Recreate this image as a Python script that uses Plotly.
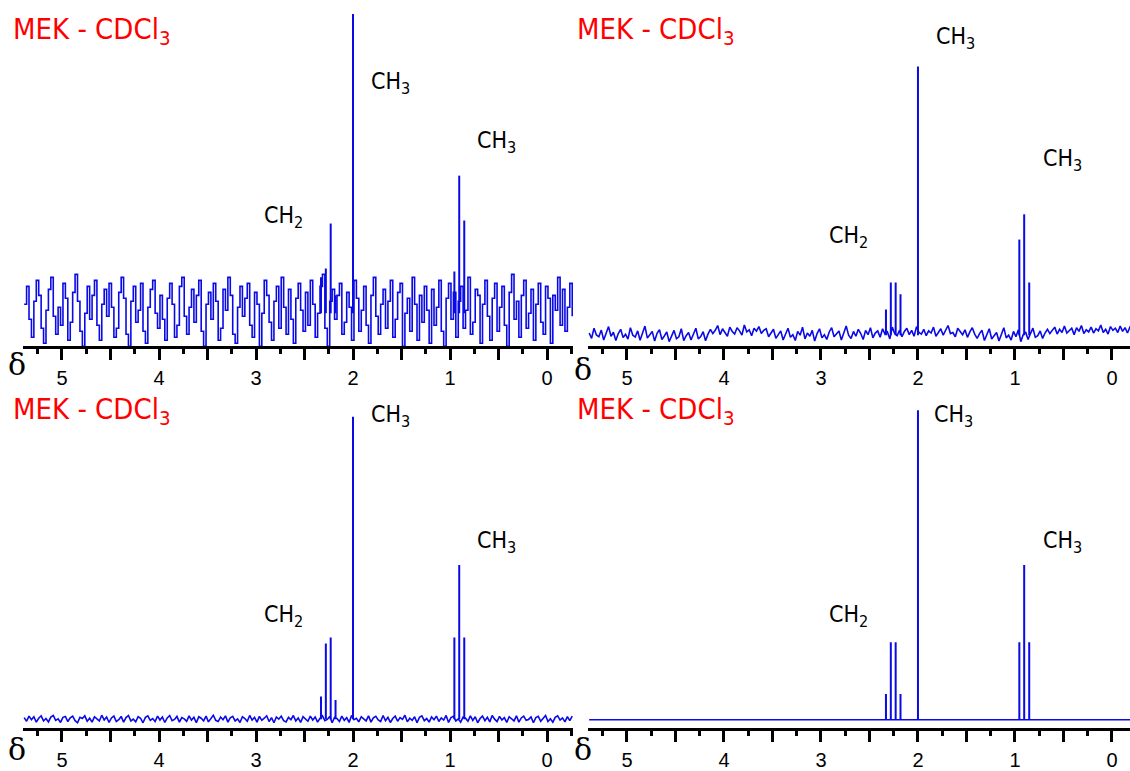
import numpy as np
import plotly.graph_objects as go

FIG_W, FIG_H = 1130, 771

# ---------------------------------------------------------------------------
# Line positions (ppm) of the methyl ethyl ketone multiplets in CDCl3
quartet_ppm = [2.33, 2.28, 2.23, 2.18]    # CH2 quartet
singlet_ppm = [2.00]                      # CO-CH3 singlet
triplet_ppm = [0.955, 0.905, 0.853]       # CH2-CH3 triplet

# Line heights (singlet = 100) for the four acquisitions
tl_quartet = [12, 15, 30, 6]
tl_singlet = [100]
tl_triplet = [14, 46, 31]

tr_quartet = [9.6, 19.6, 19.6, 15.2]
tr_singlet = [100]
tr_triplet = [35.6, 45, 19.6]

bl_quartet = [7.5, 25, 27, 6.3]
bl_singlet = [100]
bl_triplet = [27, 51, 27]

br_quartet = [8.3, 25, 25, 8.3]
br_singlet = [100]
br_triplet = [25, 50, 25]

# Baseline noise, sampled every 0.025 ppm from 5.39 ppm downwards
noise_start_ppm = 5.39
noise_step_ppm = 0.025

tl_noise = [
    3, 9, -2, -8, 4, 11, 6, -5, -10, 1,
    8, 12, -1, -7, 2, -4, 10, 5, -9, -3,
    7, 13, 4, -6, -11, 0, 9, -2, 6, 11,
    -4, -9, 3, 8, -1, 10, 2, -8, -5, 7,
    12, 5, -7, -11, 4, 9, -3, 1, 10, -6,
    -10, 2, 8, 11, 0, -5, 6, -2, -9, 5,
    10, 3, -8, -4, 9, 12, -1, -7, 2, 8,
    -3, 6, 11, -6, -11, 3, 7, -2, 10, 4,
    -9, -5, 8, 1, 12, 6, -7, -10, 2, 9,
    -1, 5, 10, -4, -8, 7, 3, -11, 0, 11,
    6, -3, -9, 4, 9, -5, 12, 2, -7, 8,
    -2, -10, 5, 10, 1, -6, 7, -4, 11, 3,
    -8, 0, 9, 13, -5, -11, 4, 8, -2, 6,
    10, -7, -3, 7, 2, -9, 11, 5, -6, 1,
    9, -4, -10, 6, 12, -1, -7, 3, 8, -5,
    4, 11, -8, -2, 7, 10, -11, 0, 5, -6,
    12, 3, -9, 6, -3, 9, 1, -10, 8, -4,
    2, 11, -6, -11, 5, 10, -2, 7, -8, 4,
    9, -5, 1, 12, -7, -3, 8, 6, -10, 3,
    11, -1, -9, 5, 10, -6, 2, 9, -4, -11,
    7, 13, -2, 4, -8, 6, 11, -5, 0, 8,
    -9, 3, 10, -3, -7, 9, 5, -10, 6, 1,
    12, -4, 8, -6, 2, 10, -1,
]

tr_noise = [
    0.8, -1.2, 2.6, 0.1, -0.6, 1.9, -1.8, 0.4, 3.2, -0.4,
    1.1, -2.0, 0.6, 2.2, -0.9, 0.3, -1.5, 2.8, 0.0, -0.7,
    1.6, -1.9, 0.9, 3.4, -1.1, 0.2, 1.4, -2.2, 0.7, 2.0,
    -1.6, -0.3, 1.2, -2.4, 0.0, 1.8, -1.3, -0.6, 2.4, -2.0,
    -0.2, 1.0, -1.8, 0.6, 2.6, -1.4, -0.5, 1.3, -2.1, 0.4,
    2.2, 0.6, 1.8, 3.6, 0.2, 2.4, 1.0, -0.4, 3.0, 1.4,
    0.4, 2.8, 1.6, 0.0, 3.8, 1.2, 2.0, -0.2, 2.6, 1.5,
    3.2, 0.6, 1.8, 2.4, -0.6, 1.0, 2.2, -1.2, 0.4, 1.6,
    -1.8, 0.6, 2.6, -0.8, 0.2, -2.0, 1.4, 0.0, 3.0, -1.4,
    0.8, -0.4, 1.8, -2.2, 0.6, 2.4, -1.0, 0.2, -1.6, 1.2,
    2.8, -0.6, 0.4, 1.6, -1.8, 0.8, 3.4, 0.0, -1.2, 1.4,
    -0.4, 2.2, 0.6, -1.6, 1.8, 0.2, 2.8, -1.0, 0.8, 1.6,
    -0.8, 2.4, 0.4, 1.2, -1.4, 3.0, 0.6, -0.2, 1.8, -0.6,
    1.4, 2.6, 0.2, 1.8, -0.4, 3.2, 1.0, 0.4, 2.2, -0.2,
    1.6, 0.8, 3.0, -0.4, 1.2, 2.4, 0.0, 1.6, 3.6, 0.6,
    1.0, -0.6, 2.6, 1.4, 0.2, 2.0, -0.8, 1.2, 2.8, 0.4,
    -1.2, 0.6, 1.8, -2.0, 0.2, 2.4, -1.4, -0.2, 1.0, -2.2,
    0.4, 2.8, -1.0, 0.0, -1.8, 1.4, -0.6, 2.0, -2.4, 0.2,
    1.2, -1.6, 0.6, 2.6, -0.8, -0.2, 1.6, -1.2, 0.8, 2.2,
    0.6, 1.8, 3.0, 0.4, 2.2, 1.0, 3.4, 0.8, 1.6, 2.6,
    0.2, 2.8, 1.4, 3.6, 0.6, 2.0, 1.2, 3.0, 0.8, 2.4,
    1.6, 3.8, 1.0, 2.2, 0.4, 3.2, 1.8, 2.6, 1.0, 3.4,
    1.4, 2.8, 0.8, 3.0, 2.0, 1.2, 3.6,
]

bl_noise = [
    0.5, -0.7, 1.0, -0.2, 0.8, -1.0, 0.3, 1.1, -0.6, 0.2,
    -0.9, 0.7, 1.2, -0.4, 0.1, -1.1, 0.6, 0.9, -0.8, 0.4,
    1.0, -0.5, -1.2, 0.6, 0.2, 1.1, -0.7, 0.3, -1.0, 0.8,
    0.1, -0.6, 1.3, -0.3, 0.7, -1.1, 0.4, 1.0, -0.8, -0.2,
    0.9, -1.0, 0.5, 1.2, -0.6, 0.0, -0.9, 0.8, 0.3, -1.2,
    0.6, 1.1, -0.4, 0.2, -0.8, 1.0, -0.3, 0.7, -1.1, 0.4,
    1.2, -0.5, -0.1, 0.9, -1.0, 0.5, 0.1, -0.7, 1.1, -0.3,
    0.6, -1.2, 0.8, 0.3, -0.6, 1.0, -0.9, 0.2, 1.3, -0.4,
    -0.8, 0.7, -0.2, 1.1, -1.0, 0.4, 0.9, -0.6, 0.1, -1.1,
    0.8, 0.2, -0.7, 1.2, -0.3, 0.6, -1.0, 0.9, -0.4, 0.3,
    1.1, -0.8, 0.5, -1.2, 0.7, 0.0, 1.0, -0.5, -0.9, 0.6,
    -0.2, 1.2, -0.6, 0.4, -1.1, 0.8, 0.2, -0.7, 1.0, -0.3,
    0.7, -1.0, 0.3, 1.1, -0.5, -0.1, 0.9, -1.2, 0.6, 0.2,
    -0.8, 1.0, -0.4, 0.5, -1.1, 1.2, -0.2, 0.3, -0.9, 0.8,
    0.1, -0.6, 1.1, -1.0, 0.4, 0.9, -0.3, -0.8, 1.2, -0.5,
    0.6, -1.1, 0.2, 1.0, -0.7, 0.5, -0.1, 1.3, -0.9, 0.3,
    -0.4, 0.8, -1.2, 0.6, 1.1, -0.5, 0.2, -1.0, 0.7, -0.2,
    1.0, -0.8, 0.4, -0.3, 1.2, -1.1, 0.5, 0.9, -0.6, 0.1,
    -1.0, 0.7, 0.3, -0.7, 1.1, -0.4, 0.8, -1.2, 0.2, 1.0,
    -0.5, 0.6, -0.9, 1.2, 0.0, -0.8, 0.9, -0.3, 0.5, -1.1,
    0.8, 0.2, -0.6, 1.1, -1.0, 0.4, 1.0, -0.4, -0.1, 0.7,
    -1.2, 0.5, 0.9, -0.7, 0.3, 1.2, -0.8, 0.1, -1.0, 0.6,
    1.1, -0.3, 0.4, -0.9, 0.8, -0.5, 1.0,
]

# the last acquisition has a perfectly flat baseline
br_noise = [0.0] * len(bl_noise)

tick_labels = ["0", "1", "2", "3", "4", "5"]

# ---------------------------------------------------------------------------
LINE_COLOR = "#0a0ae6"
LABEL_FONT = ("DejaVu Sans Condensed, Liberation Sans Narrow, "
              "Arial Narrow, Liberation Sans, sans-serif")


def px_x(px):
    return px / FIG_W


def px_y(py):
    return 1 - py / FIG_H


def stick_xy(positions, heights):
    xs, ys = [], []
    for p, h in zip(positions, heights):
        xs += [p, p, None]
        ys += [0, h, None]
    return xs, ys


panels = [
    dict(noise=tl_noise, q=tl_quartet, s=tl_singlet, t=tl_triplet, shape="hv",
         xpx=(23, 573), ypx=(0, 348), xr=(5.402, -0.268), yr=(-11.0, 104.7)),
    dict(noise=tr_noise, q=tr_quartet, s=tr_singlet, t=tr_triplet, shape="linear",
         xpx=(588, 1130), ypx=(0, 348), xr=(5.402, -0.186), yr=(-4.1, 124.8)),
    dict(noise=bl_noise, q=bl_quartet, s=bl_singlet, t=bl_triplet, shape="linear",
         xpx=(23, 573), ypx=(390, 732), xr=(5.402, -0.268), yr=(-3.0, 109.5)),
    dict(noise=br_noise, q=br_quartet, s=br_singlet, t=br_triplet, shape="linear",
         xpx=(588, 1130), ypx=(390, 732), xr=(5.402, -0.186), yr=(-2.75, 107.2)),
]

fig = go.Figure()
layout_axes = {}

major_vals = [v * 0.5 for v in range(0, 11)]
major_text = [tick_labels[int(v)] if v == int(v) else "" for v in major_vals]
minor_vals = [-0.25 + v * 0.5 for v in range(0, 12)]

for i, p in enumerate(panels, start=1):
    xa = "x" if i == 1 else f"x{i}"
    ya = "y" if i == 1 else f"y{i}"
    ppm = noise_start_ppm - noise_step_ppm * np.arange(len(p["noise"]))
    fig.add_trace(go.Scatter(x=ppm, y=p["noise"], mode="lines",
                             line=dict(color=LINE_COLOR, width=1.6,
                                       shape=p["shape"]),
                             xaxis=xa, yaxis=ya, showlegend=False,
                             hoverinfo="skip"))
    sx, sy = stick_xy(quartet_ppm + singlet_ppm + triplet_ppm,
                      p["q"] + p["s"] + p["t"])
    fig.add_trace(go.Scatter(x=sx, y=sy, mode="lines",
                             line=dict(color=LINE_COLOR, width=2),
                             xaxis=xa, yaxis=ya, showlegend=False,
                             hoverinfo="skip"))

    xkey = "xaxis" if i == 1 else f"xaxis{i}"
    ykey = "yaxis" if i == 1 else f"yaxis{i}"
    layout_axes[xkey] = dict(
        domain=[px_x(p["xpx"][0]), px_x(p["xpx"][1])],
        anchor=ya, range=list(p["xr"]),
        showline=True, linecolor="black", linewidth=3,
        showgrid=False, zeroline=False,
        ticks="outside", ticklen=11, tickwidth=3, tickcolor="black",
        tickmode="array", tickvals=major_vals, ticktext=major_text,
        tickfont=dict(family="Liberation Sans, Arial, sans-serif",
                      size=20, color="black"),
        ticklabelstandoff=1,
        minor=dict(tickmode="array", tickvals=minor_vals, ticks="outside",
                   ticklen=5, tickwidth=3, tickcolor="black"),
        fixedrange=True,
    )
    layout_axes[ykey] = dict(
        domain=[px_y(p["ypx"][1]), px_y(p["ypx"][0])],
        anchor=xa, range=list(p["yr"]), visible=False, fixedrange=True,
    )

annotations = []

# solvent title on every panel
for (tx, ty) in [(11, 31), (575, 31), (11, 413), (575, 413)]:
    annotations.append(dict(
        text="MEK - CDCl<sub>3</sub>", xref="paper", yref="paper",
        x=px_x(tx), y=px_y(ty), xanchor="left", yanchor="middle",
        showarrow=False,
        font=dict(family=LABEL_FONT, size=29, color="#ff0000")))

# delta symbol beside each shift axis
for (dx, dy) in [(17, 366), (583, 371), (17, 753), (583, 753)]:
    annotations.append(dict(
        text="δ", xref="paper", yref="paper", x=px_x(dx), y=px_y(dy),
        xanchor="center", yanchor="middle", showarrow=False,
        font=dict(family="DejaVu Serif, Liberation Serif, serif",
                  size=30, color="black")))

# group assignments
group_labels = [
    ("CH<sub>3</sub>", 369, 83), ("CH<sub>3</sub>", 475, 143), ("CH<sub>2</sub>", 262, 218),
    ("CH<sub>3</sub>", 934, 38), ("CH<sub>3</sub>", 1041, 161), ("CH<sub>2</sub>", 827, 238),
    ("CH<sub>3</sub>", 369, 418), ("CH<sub>3</sub>", 475, 545), ("CH<sub>2</sub>", 262, 619),
    ("CH<sub>3</sub>", 932, 418), ("CH<sub>3</sub>", 1041, 545), ("CH<sub>2</sub>", 827, 619),
]
for text, gx, gy in group_labels:
    annotations.append(dict(
        text=text, xref="paper", yref="paper", x=px_x(gx), y=px_y(gy),
        xanchor="left", yanchor="middle", showarrow=False,
        font=dict(family=LABEL_FONT, size=23, color="black")))

fig.update_layout(
    width=FIG_W, height=FIG_H,
    margin=dict(l=0, r=0, t=0, b=0),
    paper_bgcolor="white", plot_bgcolor="white",
    annotations=annotations,
    **layout_axes,
)

fig.write_html("out.html", config={"displayModeBar": False})
